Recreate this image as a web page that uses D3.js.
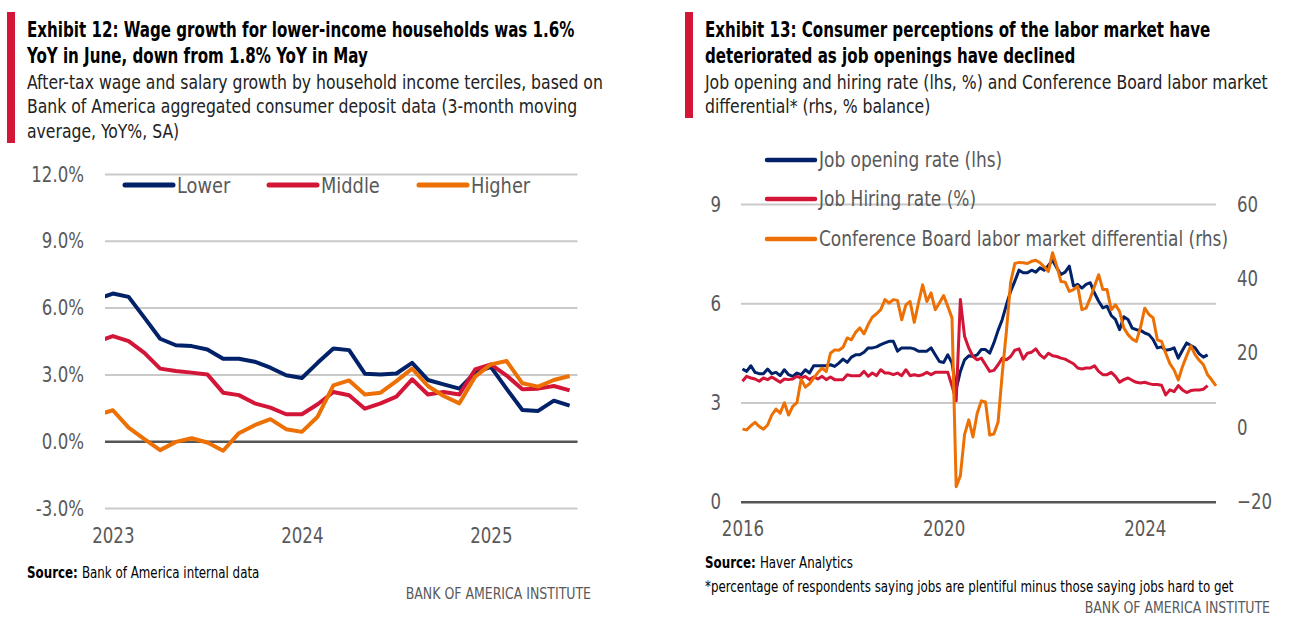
<!DOCTYPE html>
<html>
<head>
<meta charset="utf-8">
<script src="https://cdnjs.cloudflare.com/ajax/libs/d3/7.8.5/d3.min.js"></script>
<style>
  body { margin: 0; background: #fff; }
  text { font-family: "DejaVu Sans Condensed", "DejaVu Sans", sans-serif; }
</style>
</head>
<body>
<div id="chart"></div>
<script>
var svgWidth = 1292;
var svgHeight = 630;

// Exhibit 12: monthly, Dec 2022 - Jun 2025 (Dec 2022 sits outside the plot and is clipped)
var wageMonths = d3.range(31);
var lowerIncome = [6.38, 6.63, 6.48, 5.55, 4.60, 4.31, 4.27, 4.12, 3.70, 3.70, 3.57, 3.30, 2.96,
  2.84, 3.52, 4.16, 4.09, 3.03, 3.00, 3.04, 3.52, 2.75, 2.55, 2.36, 3.08,
  3.34, 2.35, 1.40, 1.36, 1.82, 1.60];
var middleIncome = [4.48, 4.72, 4.49, 3.97, 3.26, 3.15, 3.08, 3.00, 2.18, 2.07, 1.70, 1.51, 1.21,
  1.21, 1.66, 2.21, 2.06, 1.46, 1.70, 2.00, 2.78, 2.10, 2.21, 2.10, 3.22,
  3.45, 2.95, 2.33, 2.36, 2.48, 2.28];
var higherIncome = [1.17, 1.39, 0.61, 0.09, -0.40, -0.03, 0.13, -0.06, -0.43, 0.36, 0.72, 0.99, 0.54,
  0.42, 1.10, 2.51, 2.73, 2.10, 2.18, 2.70, 3.26, 2.48, 2.03, 1.70, 2.90,
  3.45, 3.60, 2.60, 2.45, 2.75, 2.93];
var wageYearTicks = [1, 13, 25];
var wageYearLabels = ["2023", "2024", "2025"];
var wageTicks = [-3, 0, 3, 6, 9, 12];
var wageSeriesNames = ["Lower", "Middle", "Higher"];

// Exhibit 13: monthly from Jan 2016
var jobOpeningRate = [4.01, 3.94, 4.11, 3.91, 3.87, 3.87, 4.01, 3.87, 3.91, 3.81, 3.99, 3.84,
  3.79, 3.89, 3.84, 3.99, 3.89, 4.11, 4.11, 4.11, 4.11, 4.14, 4.09, 4.19,
  4.31, 4.21, 4.37, 4.44, 4.44, 4.52, 4.65, 4.65, 4.68, 4.75, 4.80, 4.85,
  4.85, 4.55, 4.65, 4.65, 4.65, 4.62, 4.55, 4.55, 4.55, 4.65, 4.44, 4.24,
  4.21, 4.44, 4.19, 3.40, 3.94, 4.29, 4.41, 4.39, 4.44, 4.60, 4.60, 4.49,
  4.80, 5.18, 5.51, 5.96, 6.36, 6.67, 7.00, 6.92, 6.92, 7.00, 6.94, 7.07,
  7.00, 7.14, 7.30, 7.07, 6.87, 6.94, 7.12, 6.52, 6.57, 6.46, 6.57, 6.62,
  6.31, 6.06, 5.86, 5.91, 5.63, 5.51, 5.20, 5.59, 5.51, 5.25, 5.20, 5.18,
  5.10, 5.05, 4.90, 4.65, 4.68, 4.58, 4.60, 4.65, 4.34, 4.58, 4.80, 4.72,
  4.65, 4.47, 4.37, 4.44];
var jobHiringRate = [3.64, 3.79, 3.74, 3.71, 3.64, 3.74, 3.69, 3.77, 3.69, 3.61, 3.71, 3.69,
  3.71, 3.79, 3.74, 3.79, 3.69, 3.77, 3.71, 3.79, 3.69, 3.77, 3.69, 3.69,
  3.69, 3.84, 3.81, 3.81, 3.81, 3.94, 3.79, 3.89, 3.81, 3.99, 3.89, 3.89,
  3.84, 3.89, 3.81, 3.99, 3.81, 3.84, 3.81, 3.84, 3.91, 3.84, 3.91, 3.91,
  3.91, 3.91, 3.50, 3.05, 6.11, 5.00, 4.65, 4.39, 4.29, 4.34, 4.14, 3.94,
  3.97, 4.14, 4.34, 4.29, 4.39, 4.58, 4.62, 4.31, 4.49, 4.52, 4.62, 4.44,
  4.34, 4.49, 4.41, 4.39, 4.34, 4.31, 4.24, 4.17, 4.04, 4.01, 4.04, 4.04,
  4.11, 3.94, 3.84, 3.84, 3.91, 3.79, 3.61, 3.69, 3.74, 3.67, 3.61, 3.59,
  3.61, 3.57, 3.54, 3.54, 3.52, 3.23, 3.38, 3.33, 3.51, 3.38, 3.30, 3.36,
  3.38, 3.38, 3.40, 3.51];
var laborDifferential = [-0.5, -0.7, 0.4, 1.3, 0.2, -0.5, 0.6, 3.3, 4.9, 3.8, 6.6, 3.3,
  5.6, 6.6, 12.9, 10.8, 11.7, 13.2, 14.7, 15.9, 15.0, 19.9, 20.8, 20.7,
  21.5, 24.0, 23.5, 25.5, 26.7, 25.1, 27.6, 29.6, 30.5, 31.6, 34.3, 33.4,
  34.3, 34.1, 28.9, 32.9, 33.8, 28.2, 33.4, 38.3, 33.8, 36.1, 31.6, 33.4,
  35.4, 32.5, 29.4, -16.0, -13.0, -2.0, 2.0, -2.6, 3.7, 7.1, 6.8, -2.1,
  -1.8, 1.4, 14.5, 26.0, 39.0, 44.0, 44.3, 44.2, 44.0, 44.6, 44.9, 44.2,
  43.1, 41.9, 46.9, 43.3, 39.2, 39.0, 36.5, 37.0, 37.9, 31.6, 32.0, 34.7,
  37.9, 41.0, 37.0, 37.0, 31.6, 32.9, 31.1, 26.7, 24.9, 23.7, 23.1, 26.9,
  32.0, 30.3, 29.4, 23.5, 23.1, 19.9, 17.1, 15.4, 12.7, 16.3, 19.2, 21.9,
  19.5, 18.0, 16.8, 14.1, 12.7, 11.1];
var laborYearTicks = [0, 48, 96];
var laborYearLabels = ["2016", "2020", "2024"];
var lhsTicks = [0, 3, 6, 9];
var rhsTicks = [-20, 0, 20, 40, 60];
var laborSeriesNames = ["Job opening rate (lhs)", "Job Hiring rate (%)",
  "Conference Board labor market differential (rhs)"];

var navy = "#012169";
var red = "#d31638";
var orange = "#ec7003";
var grey = "#595959";

var svg = d3.select("#chart")
  .append("svg")
  .attr("width", svgWidth)
  .attr("height", svgHeight);

svg.append("rect").attr("width", svgWidth).attr("height", svgHeight).attr("fill", "#fff");

// the report font is a narrow sans; squeeze the condensed fallback horizontally
// around the text's own anchor point
function squeeze(sel, k) {
  sel.each(function() {
    var x = +d3.select(this).attr("x") || 0;
    d3.select(this).attr("transform", `translate(${x * (1 - k)},0) scale(${k},1)`);
  });
}

// ---------- headers ----------
function header(x, barHeight, titleLines, subLines) {
  svg.append("rect")
    .attr("x", x - 20)
    .attr("y", 12)
    .attr("width", 8)
    .attr("height", barHeight)
    .attr("fill", red);

  titleLines.forEach(function(line, i) {
    svg.append("text")
      .attr("x", x)
      .attr("y", 37 + i * 26)
      .style("font-size", "21px")
      .style("font-weight", "bold")
      .attr("fill", "#000")
      .text(line)
      .call(squeeze, 0.8);
  });

  subLines.forEach(function(line, i) {
    svg.append("text")
      .attr("x", x)
      .attr("y", 89 + i * 24.5)
      .style("font-size", "20px")
      .attr("fill", "#222")
      .text(line)
      .call(squeeze, 0.87);
  });
}

header(27, 131,
  ["Exhibit 12: Wage growth for lower-income households was 1.6%",
   "YoY in June, down from 1.8% YoY in May"],
  ["After-tax wage and salary growth by household income terciles, based on",
   "Bank of America aggregated consumer deposit data (3-month moving",
   "average, YoY%, SA)"]);

header(705, 106,
  ["Exhibit 13: Consumer perceptions of the labor market have",
   "deteriorated as job openings have declined"],
  ["Job opening and hiring rate (lhs, %) and Conference Board labor market",
   "differential* (rhs, % balance)"]);

// style helper for axis text
function styleAxis(g) {
  g.select(".domain").remove();
  g.selectAll("text").attr("fill", grey).style("font-size", "22px").call(squeeze, 0.84);
}

// ---------- Exhibit 12 ----------
var left = {x0: 105, x1: 577.5, y0: 174, y1: 508};

var xWage = d3.scaleLinear().domain([0.5, 30.5]).range([left.x0, left.x1]);
var yWage = d3.scaleLinear().domain([-3, 12]).range([left.y1, left.y0]);

svg.append("clipPath").attr("id", "wageClip")
  .append("rect")
  .attr("x", left.x0).attr("y", 150)
  .attr("width", left.x1 - left.x0).attr("height", 380);

var wageGrid = svg.append("g")
  .attr("transform", `translate(${left.x0},0)`)
  .call(d3.axisLeft(yWage)
    .tickValues(wageTicks)
    .tickSize(-(left.x1 - left.x0))
    .tickPadding(21)
    .tickFormat(d => d.toFixed(1) + "%"))
  .call(styleAxis);
wageGrid.selectAll("line")
  .attr("stroke", d => d === 0 ? "#555" : "#c9c9c9")
  .attr("stroke-width", d => d === 0 ? 2.5 : 2);

svg.append("g")
  .attr("transform", `translate(0,${left.y1})`)
  .call(d3.axisBottom(xWage)
    .tickValues(wageYearTicks)
    .tickSize(0)
    .tickPadding(19)
    .tickFormat((d, i) => wageYearLabels[i]))
  .call(styleAxis);

var wageLine = d3.line()
  .x((d, i) => xWage(wageMonths[i]))
  .y(d => yWage(d));

var wageSeries = [lowerIncome, middleIncome, higherIncome];
var wageColors = [navy, red, orange];

svg.append("g")
  .attr("clip-path", "url(#wageClip)")
  .selectAll("path")
  .data(wageSeries)
  .enter()
  .append("path")
  .attr("d", wageLine)
  .attr("fill", "none")
  .attr("stroke", (d, i) => wageColors[i])
  .attr("stroke-width", 4)
  .attr("stroke-linejoin", "round");

// legend
var wageLegendX = [125, 269, 419];
wageSeriesNames.forEach(function(name, i) {
  svg.append("line")
    .attr("x1", wageLegendX[i]).attr("x2", wageLegendX[i] + 48)
    .attr("y1", 185).attr("y2", 185)
    .attr("stroke", wageColors[i])
    .attr("stroke-width", 5)
    .attr("stroke-linecap", "round");
  svg.append("text")
    .attr("x", wageLegendX[i] + 52)
    .attr("y", 185)
    .attr("dy", "0.35em")
    .style("font-size", "22px")
    .attr("fill", grey)
    .text(name)
    .call(squeeze, 0.9);
});

// footer
var src1 = svg.append("text").attr("x", 27).attr("y", 578).style("font-size", "15px").attr("fill", "#000");
src1.append("tspan").style("font-weight", "bold").text("Source: ");
src1.append("tspan").text("Bank of America internal data");
src1.call(squeeze, 0.88);
svg.append("text").attr("x", 591).attr("y", 599).attr("text-anchor", "end")
  .style("font-size", "16px").attr("fill", grey).text("BANK OF AMERICA INSTITUTE")
  .call(squeeze, 0.87);

// ---------- Exhibit 13 ----------
var right = {x0: 741, x1: 1216, y0: 204, y1: 501.7};

var xLabor = d3.scaleLinear().domain([-0.35, 113]).range([right.x0, right.x1]);
var yLhs = d3.scaleLinear().domain([0, 9]).range([right.y1, right.y0]);
var yRhs = d3.scaleLinear().domain([-20, 60]).range([right.y1, right.y0]);

var laborGrid = svg.append("g")
  .attr("transform", `translate(${right.x0},0)`)
  .call(d3.axisLeft(yLhs)
    .tickValues(lhsTicks)
    .tickSize(-(right.x1 - right.x0))
    .tickPadding(20))
  .call(styleAxis);
laborGrid.selectAll("line")
  .attr("stroke", d => d === 0 ? "#555" : "#c9c9c9")
  .attr("stroke-width", d => d === 0 ? 2.5 : 2);

svg.append("g")
  .attr("transform", `translate(${right.x1},0)`)
  .call(d3.axisRight(yRhs)
    .tickValues(rhsTicks)
    .tickSize(0)
    .tickPadding(21))
  .call(styleAxis);

svg.append("g")
  .attr("transform", `translate(0,${right.y1})`)
  .call(d3.axisBottom(xLabor)
    .tickValues(laborYearTicks)
    .tickSize(0)
    .tickPadding(19)
    .tickFormat((d, i) => laborYearLabels[i]))
  .call(styleAxis);

var lhsLine = d3.line().x((d, i) => xLabor(i)).y(d => yLhs(d));
var rhsLine = d3.line().x((d, i) => xLabor(i)).y(d => yRhs(d));

var laborColors = [navy, red, orange];

svg.append("path").datum(jobOpeningRate)
  .attr("d", lhsLine).attr("fill", "none")
  .attr("stroke", navy).attr("stroke-width", 3).attr("stroke-linejoin", "round");
svg.append("path").datum(jobHiringRate)
  .attr("d", lhsLine).attr("fill", "none")
  .attr("stroke", red).attr("stroke-width", 3).attr("stroke-linejoin", "round");
svg.append("path").datum(laborDifferential)
  .attr("d", rhsLine).attr("fill", "none")
  .attr("stroke", orange).attr("stroke-width", 3).attr("stroke-linejoin", "round");

// legend
var laborLegendY = [160, 199, 239];
laborSeriesNames.forEach(function(name, i) {
  svg.append("line")
    .attr("x1", 767).attr("x2", 815)
    .attr("y1", laborLegendY[i]).attr("y2", laborLegendY[i])
    .attr("stroke", laborColors[i])
    .attr("stroke-width", 4.5)
    .attr("stroke-linecap", "round");
  svg.append("text")
    .attr("x", 819)
    .attr("y", laborLegendY[i])
    .attr("dy", "0.35em")
    .style("font-size", "21px")
    .attr("fill", grey)
    .text(name)
    .call(squeeze, 0.9);
});

// footer
var src2 = svg.append("text").attr("x", 705).attr("y", 568).style("font-size", "15px").attr("fill", "#000");
src2.append("tspan").style("font-weight", "bold").text("Source: ");
src2.append("tspan").text("Haver Analytics");
src2.call(squeeze, 0.88);
svg.append("text").attr("x", 705).attr("y", 592).style("font-size", "15px").attr("fill", "#000")
  .text("*percentage of respondents saying jobs are plentiful minus those saying jobs hard to get")
  .call(squeeze, 0.88);
svg.append("text").attr("x", 1270).attr("y", 613).attr("text-anchor", "end")
  .style("font-size", "16px").attr("fill", grey).text("BANK OF AMERICA INSTITUTE")
  .call(squeeze, 0.87);
</script>
</body>
</html>
